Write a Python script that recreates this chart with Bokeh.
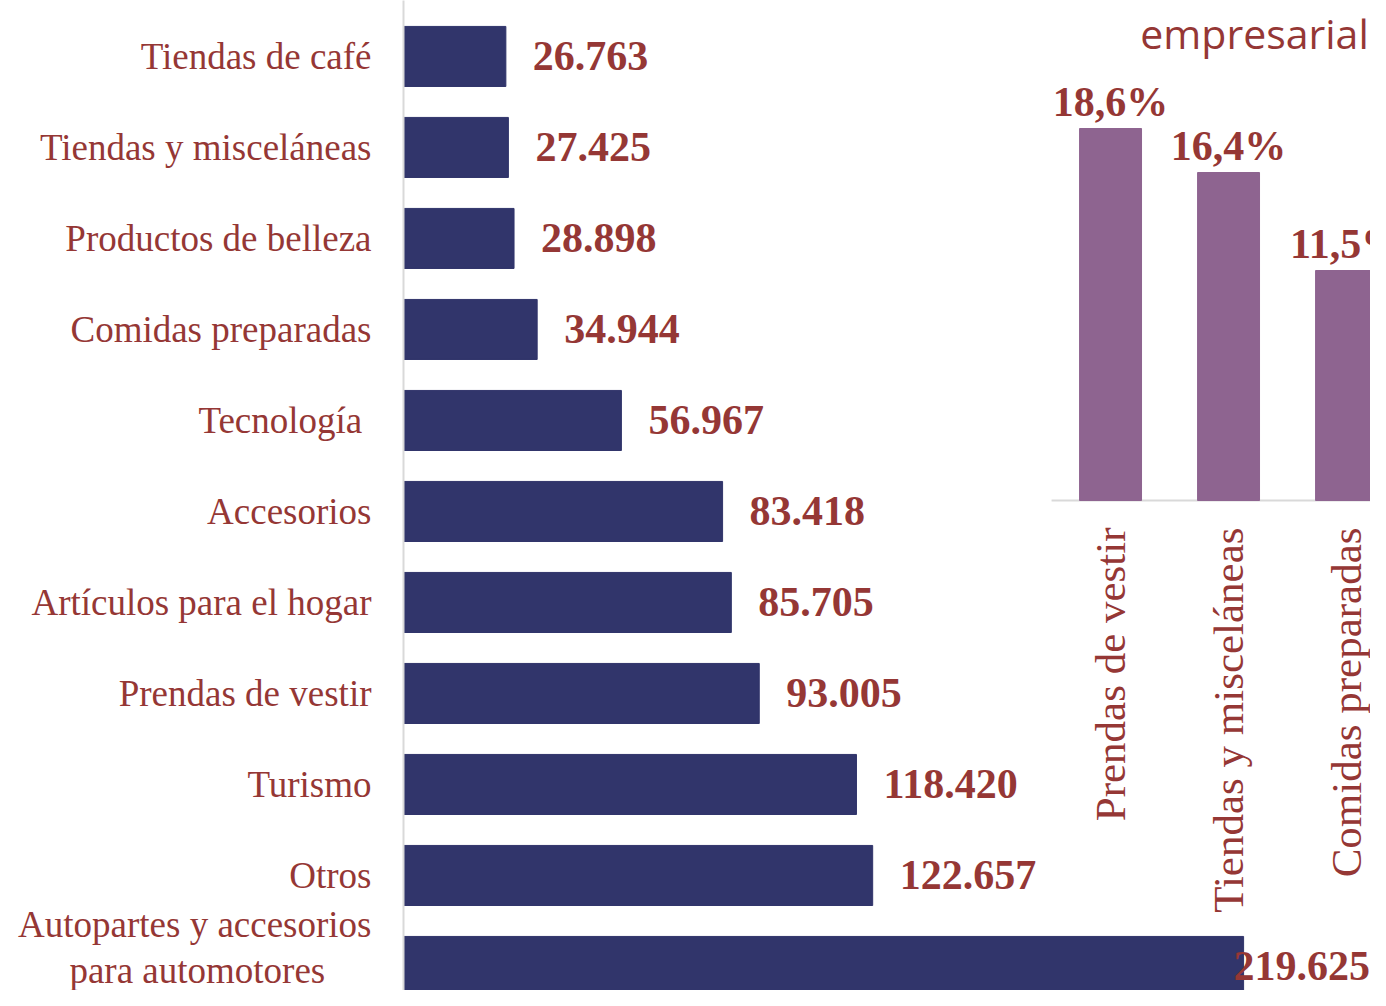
from bokeh.plotting import figure
from bokeh.models import ColumnDataSource, Range1d, FixedTicker
from bokeh.core.properties import value
from bokeh.embed import file_html
from bokeh.resources import INLINE

# ---- data: main horizontal bars (top to bottom) ----
categories = ["Tiendas de café", "Tiendas y misceláneas", "Productos de belleza",
              "Comidas preparadas", "Tecnología ", "Accesorios", "Artículos para el hogar",
              "Prendas de vestir", "Turismo", "Otros",
              "Autopartes y accesorios\npara automotores"]
values = [26763, 27425, 28898, 34944, 56967, 83418, 85705, 93005, 118420, 122657, 219625]

# ---- data: inset vertical bars ----
inset_categories = ["Prendas de vestir", "Tiendas y misceláneas", "Comidas preparadas"]
inset_values = [18.6, 16.4, 11.5]
inset_title = "empresarial"

NAVY = "#31356B"
PURPLE = "#8E6490"
RED = "#953735"
SERIF = "Liberation Serif"

W, H = 1370, 990
LEFT = 403


def centre_lines(label, pad=5):
    # the wrapped label's second line is centred under the first in the original
    parts = label.split("\n")
    if len(parts) == 2:
        return parts[0] + "\n" + parts[1] + "\u00a0" * pad
    return label


pos = list(range(len(categories)))
labels = [f"{v:,}".replace(",", ".") for v in values]
vmax = max(values)
offsets = [-10 if v == vmax else 27 for v in values]

src = ColumnDataSource(dict(y=pos, v=values, lab=labels, off=offsets))

p = figure(width=W, height=H, output_backend="svg", toolbar_location=None,
           x_range=Range1d(0, 252800), y_range=Range1d(10.264, -0.615),
           min_border_left=LEFT, min_border_right=0, min_border_top=0, min_border_bottom=0,
           x_axis_location=None)
p.outline_line_color = None
p.xgrid.visible = False
p.ygrid.visible = False
p.background_fill_color = "white"
p.border_fill_color = "white"

p.hbar(y="y", right="v", left=0, height=0.66, source=src, fill_color=NAVY,
       line_color=NAVY)
p.text(x="v", y="y", text="lab", source=src, x_offset="off",
       text_font=value(SERIF), text_font_style="bold", text_font_size="42px",
       text_color=RED, text_align="left", text_baseline="middle")

yax = p.yaxis[0]
yax.ticker = FixedTicker(ticks=pos)
yax.major_label_overrides = {i: centre_lines(c) for i, c in zip(pos, categories)}
yax.major_tick_line_color = None
yax.minor_tick_line_color = None
yax.axis_line_color = "#D9D9D9"
yax.axis_line_width = 2
yax.major_label_text_font = SERIF
yax.major_label_text_font_size = "37px"
yax.major_label_text_color = RED
yax.major_label_standoff = 26
yax.major_label_text_line_height = 1.1

# ---- inset using extra ranges ----
p.extra_x_ranges = {"ix": Range1d(-5.992, 2.203)}
p.extra_y_ranges = {"iy": Range1d(-24.5, 25.0)}

ipos = list(range(len(inset_categories)))
ilabels = [f"{v:.1f}%".replace(".", ",") for v in inset_values]
isrc = ColumnDataSource(dict(x=ipos, v=inset_values, lab=ilabels, cat=inset_categories,
                             zero=[0] * len(ipos)))

p.segment(x0=-0.5, y0=0, x1=len(ipos) - 0.5, y1=0, x_range_name="ix", y_range_name="iy",
          line_color="#D9D9D9", line_width=2)
p.vbar(x="x", top="v", bottom=0, width=0.525, source=isrc, x_range_name="ix",
       y_range_name="iy", fill_color=PURPLE, line_color=PURPLE)
p.text(x="x", y="v", text="lab", source=isrc, x_range_name="ix", y_range_name="iy",
       y_offset=-27, text_font=value(SERIF), text_font_style="bold",
       text_font_size="42px", text_color=RED, text_align="center",
       text_baseline="alphabetic")
p.text(x="x", y="zero", text="cat", source=isrc, x_range_name="ix", y_range_name="iy",
       y_offset=27, angle=1.5707963, text_font=value(SERIF), text_font_size="43px",
       text_color=RED, text_align="right", text_baseline="middle")
p.text(x=[ipos[1]], y=[max(inset_values)], text=[inset_title],
       x_range_name="ix", y_range_name="iy", x_offset=26, y_offset=-96,
       text_font=value("Open Sans"), text_font_size="41px", text_color=RED,
       text_align="center", text_baseline="alphabetic")

open("out.html", "w").write(file_html(p, INLINE))
